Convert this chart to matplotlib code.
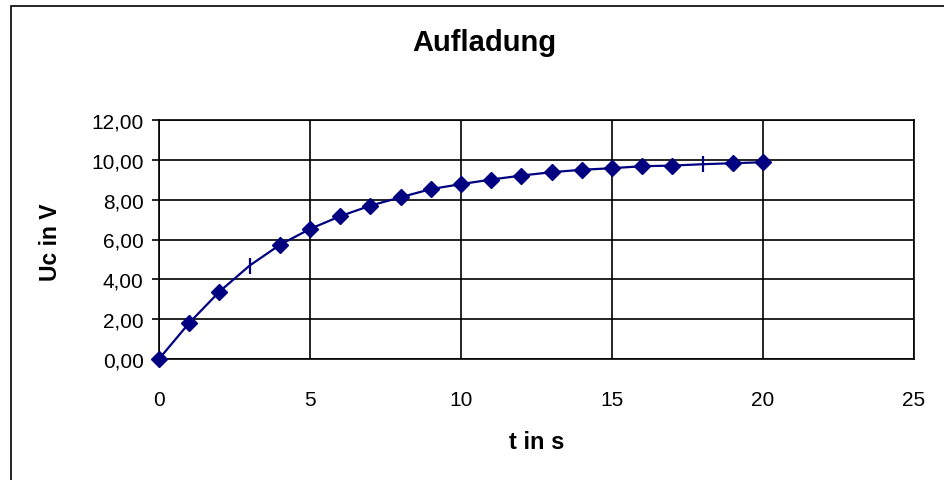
import matplotlib
matplotlib.use("Agg")
import matplotlib.pyplot as plt
from matplotlib.patches import Rectangle

plt.rcParams['font.family'] = ['Liberation Sans', 'DejaVu Sans']

t = [0, 1, 2, 3, 4, 5, 6, 7, 8, 9, 10, 11, 12, 13, 14, 15, 16, 17, 18, 19, 20]
uc = [0.00, 1.81, 3.38, 4.69, 5.73, 6.53, 7.17, 7.70, 8.12, 8.53, 8.78,
      9.01, 9.21, 9.38, 9.50, 9.58, 9.68, 9.71, 9.78, 9.83, 9.88]
bar_marker_t = [3, 18]  # points drawn with a short vertical tick instead of a diamond

xticks = [0, 5, 10, 15, 20, 25]
yticks = [0, 2, 4, 6, 8, 10, 12]
ytick_labels = ["0,00", "2,00", "4,00", "6,00", "8,00", "10,00", "12,00"]

title = "Aufladung"
xlabel = "t in s"
ylabel = "Uc in V"

color = "#000080"

fig = plt.figure(figsize=(9.45, 4.81), dpi=100)
fig.patches.append(Rectangle((11 / 945, -0.1), 1.2, 1 - 7 / 481 + 0.1,
                             transform=fig.transFigure, fill=False,
                             edgecolor="black", linewidth=1.2))

ax = fig.add_axes([159 / 945, 1 - 360 / 481, (914 - 159) / 945, (360 - 121) / 481])

ax.plot(t, uc, color=color, linewidth=1.6, zorder=3, clip_on=False)
dt = [x for x in t if x not in bar_marker_t]
du = [u for x, u in zip(t, uc) if x not in bar_marker_t]
ax.plot(dt, du, linestyle="none", marker="D", markersize=8.5, color=color,
        zorder=4, clip_on=False)
bt = [x for x in t if x in bar_marker_t]
bu = [u for x, u in zip(t, uc) if x in bar_marker_t]
ax.plot(bt, bu, linestyle="none", marker="|", markersize=11, markeredgewidth=1.6,
        color=color, zorder=4, clip_on=False)

ax.set_xlim(0, 25)
ax.set_ylim(0, 12)
ax.set_xticks(xticks)
ax.set_xticklabels([str(x) for x in xticks])
ax.set_yticks(yticks)
ax.set_yticklabels(ytick_labels)
ax.grid(True, color="black", linewidth=1.2)
ax.set_axisbelow(True)
for s in ax.spines.values():
    s.set_color("black")
    s.set_linewidth(1.2)
ax.tick_params(axis="both", direction="out", length=5, width=1.2,
               labelsize=15, color="black", pad=6)
ax.tick_params(axis="x", length=0, pad=29, labelsize=15)
for lbl in ax.get_xticklabels():
    lbl.set_va("center")

fig.text(484 / 945, 1 - 43 / 481, title, ha="center", va="center",
         fontsize=21, fontweight="bold")
fig.text(537 / 945, 1 - 443 / 481, xlabel, ha="center", va="center",
         fontsize=17, fontweight="bold")
fig.text(51 / 945, 1 - 242 / 481, ylabel, ha="center", va="center",
         rotation=90, fontsize=16.5, fontweight="bold")

fig.savefig("out.png", dpi=100)
